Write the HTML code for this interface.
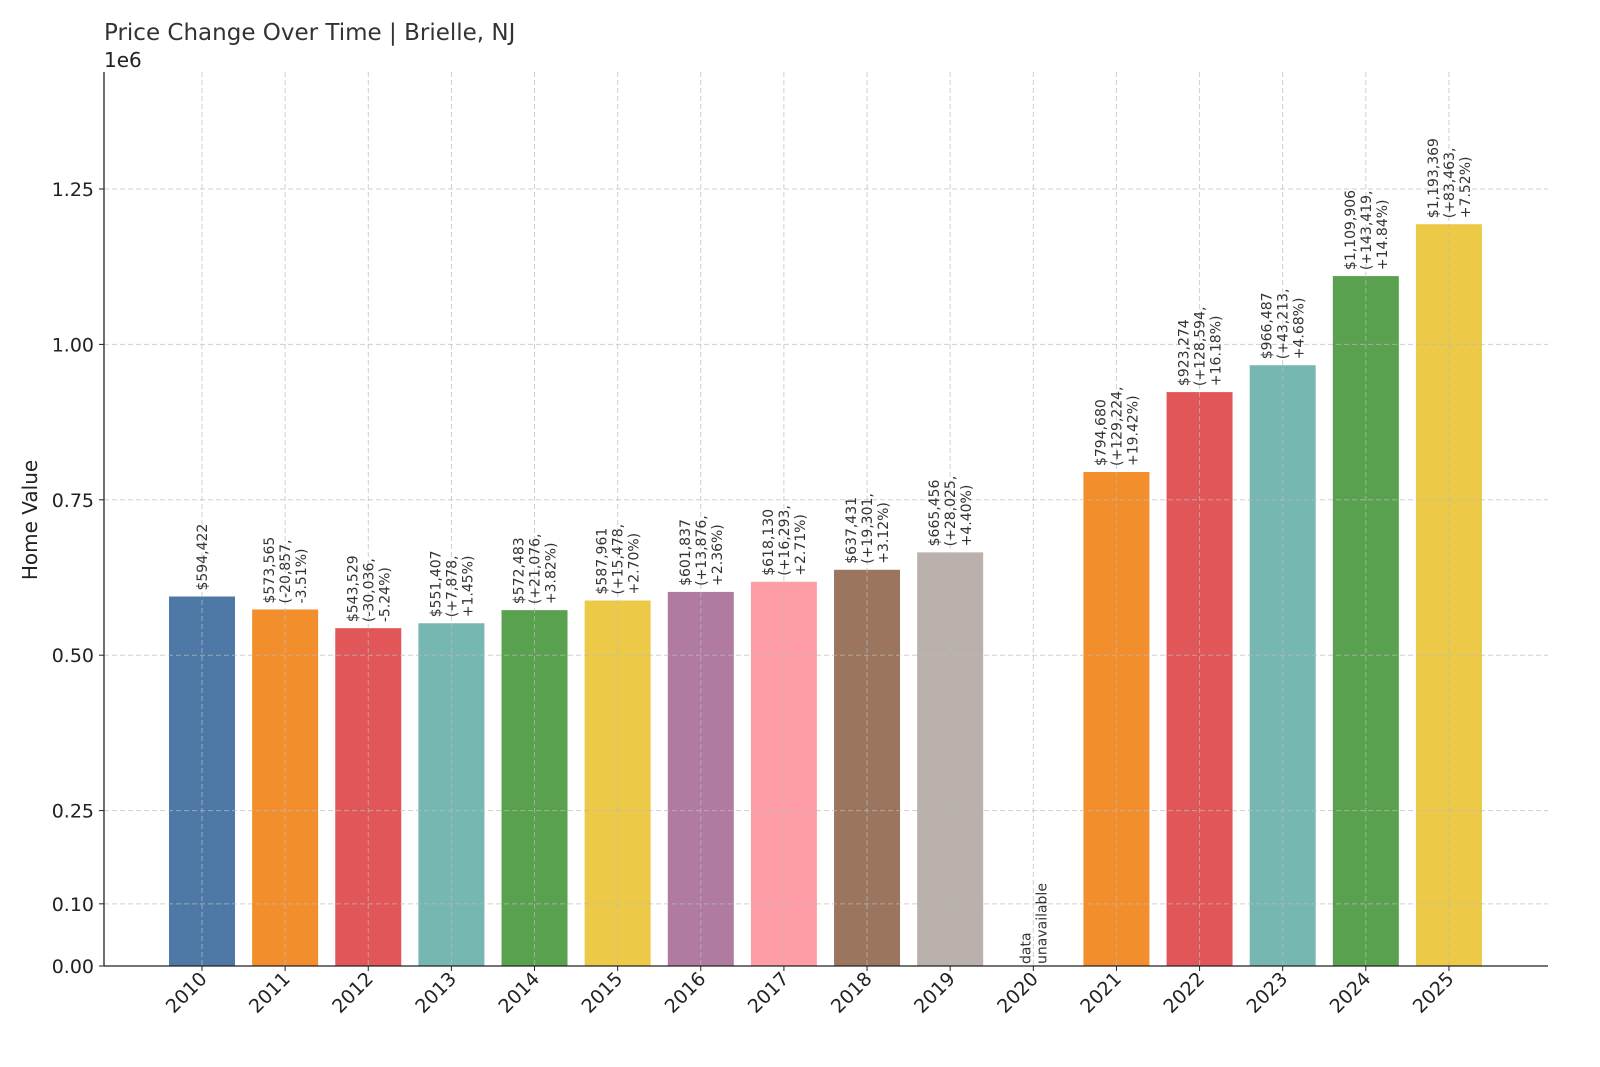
<!DOCTYPE html>
<html><head><meta charset="utf-8"><style>
body{margin:0;background:#fff;}
svg{display:block;font-family:"DejaVu Sans","Liberation Sans",sans-serif;}
</style></head><body>
<svg id="c" width="1600" height="1067" viewBox="0 0 1600 1067">
<text x="104" y="40" font-size="23" fill="#333">Price Change Over Time | Brielle, NJ</text>
<text x="104" y="67" font-size="20" fill="#222">1e6</text>
<text transform="translate(37,520) rotate(-90)" text-anchor="middle" font-size="20" fill="#222">Home Value</text>
</svg>
<script>
const categories=["2010","2011","2012","2013","2014","2015","2016","2017","2018","2019","2020","2021","2022","2023","2024","2025"];
const values=[594422,573565,543529,551407,572483,587961,601837,618130,637431,665456,null,794680,923274,966487,1109906,1193369];
const changes=["","(-20,857,","(-30,036,","(+7,878,","(+21,076,","(+15,478,","(+13,876,","(+16,293,","(+19,301,","(+28,025,","","(+129,224,","(+128,594,","(+43,213,","(+143,419,","(+83,463,"];
const pcts=["","-3.51%)","-5.24%)","+1.45%)","+3.82%)","+2.70%)","+2.36%)","+2.71%)","+3.12%)","+4.40%)","","+19.42%)","+16.18%)","+4.68%)","+14.84%)","+7.52%)"];
const colors=["#4e79a7","#f28e2b","#e15759","#76b7b2","#59a14f","#edc948","#b07aa1","#ff9da7","#9c755f","#bab0ac","none","#f28e2b","#e15759","#76b7b2","#59a14f","#edc948"];
const yTicks=[0,0.1,0.25,0.5,0.75,1.0,1.25];
const yTickLabels=["0.00","0.10","0.25","0.50","0.75","1.00","1.25"];
const NS="http://www.w3.org/2000/svg";
const svg=document.getElementById('c');
const L=104,R=1548,T=72,B=966;
const y=v=>B-v/1e6*621.6;
const x=i=>202+i*83.13;
const bw=66;
function mk(t,a){const e=document.createElementNS(NS,t);for(const k in a)e.setAttribute(k,a[k]);svg.appendChild(e);return e;}
values.forEach((v,i)=>{
 if(v===null)return;
 const r=mk('rect',{x:x(i)-bw/2,y:y(v),width:bw,height:B-y(v),fill:colors[i]});
 
 
});
yTicks.forEach((t,k)=>{
 const g=mk('line',{x1:L,x2:R,y1:y(t*1e6),y2:y(t*1e6),stroke:'#bbb','stroke-width':1,'stroke-dasharray':'5,3','stroke-opacity':0.7});
 
 
 const tl=mk('text',{x:L-10,y:y(t*1e6)+7,'text-anchor':'end','font-size':19,fill:'#222'});
 tl.textContent=yTickLabels[k];
 
 
 mk('line',{x1:L-5,x2:L,y1:y(t*1e6),y2:y(t*1e6),stroke:'#222'});
});
categories.forEach((c,i)=>{
 const g=mk('line',{x1:x(i),x2:x(i),y1:T,y2:B,stroke:'#bbb','stroke-width':1,'stroke-dasharray':'5,3','stroke-opacity':0.7});
 
 
 mk('line',{x1:x(i),x2:x(i),y1:B,y2:B+5,stroke:'#222'});
 const tl=mk('text',{transform:`translate(${x(i)+6},${B+14}) rotate(-45)`,'text-anchor':'end','font-size':19,fill:'#222'});
 tl.textContent=c;
 
 
 let lines, base;
 if(values[i]===null){lines=["data","unavailable"];base=B-2;}
 else{lines=[ '$'+values[i].toLocaleString('en-US') ];if(changes[i])lines.push(changes[i],pcts[i]);base=y(values[i])-6;}
 const n=lines.length;
 lines.forEach((s,j)=>{
  const off=(j-(n-1)/2)*16;
  const t=mk('text',{transform:`translate(${x(i)+off+5},${base}) rotate(-90)`,'text-anchor':'start','font-size':14,fill:'#333'});
  t.textContent=s;
  
  
 });
});
mk('line',{x1:L,x2:L,y1:T,y2:B,stroke:'#222','stroke-width':1.3});
mk('line',{x1:L,x2:R,y1:B,y2:B,stroke:'#222','stroke-width':1.3});
</script>
</body></html>
